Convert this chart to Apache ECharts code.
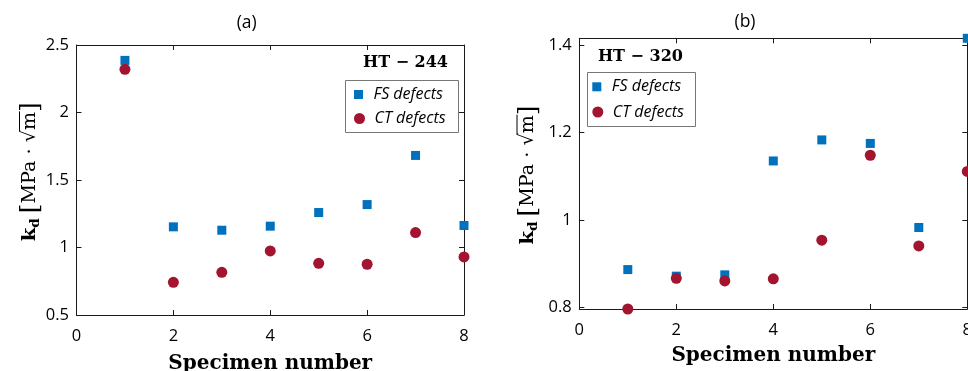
<!DOCTYPE html>
<html><head><meta charset="utf-8">
<script src="https://cdn.jsdelivr.net/npm/echarts@6/dist/echarts.min.js"></script>
<style>html,body{margin:0;padding:0;background:#fff}#c{width:968px;height:371px}</style>
</head><body><div id="c"></div>
<script>
// ---- data ----
const specimens = [1, 2, 3, 4, 5, 6, 7, 8];
const fsA = [2.386, 1.153, 1.128, 1.158, 1.259, 1.318, 1.682, 1.163];
const ctA = [2.320, 0.742, 0.816, 0.975, 0.883, 0.876, 1.111, 0.930];
const fsB = [0.887, 0.872, 0.875, 1.135, 1.183, 1.175, 0.983, 1.415];
const ctB = [0.797, 0.867, 0.861, 0.866, 0.954, 1.148, 0.941, 1.111];
const xTicks = [0, 2, 4, 6, 8];
const yTicksA = [0.5, 1, 1.5, 2, 2.5];
const yTicksB = [0.8, 1, 1.2, 1.4];
const panelTitles = ['(a)', '(b)'];
const materials = ['HT \u2212 244', 'HT \u2212 320'];
const seriesNames = ['FS defects', 'CT defects'];
const xLabel = 'Specimen number';

const BLUE = '#0072BD', RED = '#A2142F', AX = '#1a1a1a';
const TICKFONT = '"Open Sans", "Noto Sans", sans-serif';
const SERIF = '"DejaVu Serif", serif';

const chart = echarts.init(document.getElementById('c'), null, {renderer: 'canvas'});

const cvs = document.createElement('canvas');
const ctx = cvs.getContext('2d');
function midOff(font) { ctx.font = font; ctx.textBaseline = 'middle'; return ctx.measureText('H').actualBoundingBoxDescent; }
function width(font, t) { ctx.font = font; return ctx.measureText(t).width; }
function ascent(font, t) { ctx.font = font; ctx.textBaseline = 'alphabetic'; return ctx.measureText(t).actualBoundingBoxAscent; }

function yLabel(cx, cy) {
  const base = 17;
  const unitW = width('22px ' + SERIF, '[') * 2 + width(base + 'px ' + SERIF, 'MPa \u00b7 \u221am');
  const s = 111 / unitW;
  const kW = width('bold 17px ' + SERIF, 'k') + width('bold 12px ' + SERIF, 'd');
  const sk = 23 / kW;
  const F = {
    k: 'bold ' + (17 * sk).toFixed(2) + 'px ' + SERIF,
    d: 'bold ' + (12 * sk).toFixed(2) + 'px ' + SERIF,
    br: (22 * s).toFixed(2) + 'px ' + SERIF,
    r: (base * s).toFixed(2) + 'px ' + SERIF
  };
  const parts = [
    {t: 'k', f: F.k, dy: 0},
    {t: 'd', f: F.d, dy: 4},
    {gap: 5},
    {t: '[', f: F.br, dy: 2},
    {t: 'MPa', f: F.r, dy: 0},
    {t: ' \u00b7 ', f: F.r, dy: 0},
    {t: '\u221a', f: F.r, dy: 0, id: 's'},
    {t: 'm', f: F.r, dy: 0, id: 'm'},
    {t: ']', f: F.br, dy: 2}
  ];
  let total = 0;
  parts.forEach(p => { p.w = p.gap ? p.gap : width(p.f, p.t); total += p.w; });
  let x = -total / 2;
  const children = [];
  let sEnd = 0, mEnd = 0, sTop = 0;
  parts.forEach(p => {
    if (!p.gap) {
      children.push({type: 'text', x: x, y: p.dy - midOff(p.f),
        style: {text: p.t, font: p.f, fill: '#000', align: 'left', verticalAlign: 'middle'}});
      if (p.id === 's') { sEnd = x + p.w; sTop = ascent(p.f, p.t); }
      if (p.id === 'm') { mEnd = x + p.w; }
    }
    x += p.w;
  });
  children.push({type: 'line', shape: {x1: sEnd - 1.5, y1: -sTop + 0.5, x2: mEnd + 0.5, y2: -sTop + 0.5},
    style: {stroke: '#000', lineWidth: 1}});
  return {type: 'group', x: cx, y: cy, rotation: Math.PI / 2, children: children};
}

const grids = [
  {left: 76.5, top: 45, width: 387.5, height: 270, outerBoundsMode: 'none', containLabel: false},
  {left: 579.3, top: 38.3, width: 388, height: 270.7, outerBoundsMode: 'none', containLabel: false}
];

function xAx(gi, pos, gap) {
  return {
    type: 'value', gridIndex: gi, position: pos, min: 0, max: 8, interval: 2,
    axisLine: {show: true, onZero: false, lineStyle: {color: AX, width: 1}},
    axisTick: {show: true, inside: true, length: 5, lineStyle: {color: AX}},
    axisLabel: {show: pos === 'bottom', margin: 12.5, color: '#000', fontSize: 16.5, fontFamily: TICKFONT,
      customValues: xTicks},
    splitLine: {show: false},
    name: pos === 'bottom' ? xLabel : '', nameLocation: 'middle', nameGap: gap || 36,
    nameTextStyle: {fontFamily: SERIF, fontWeight: 'bold', fontSize: 20, color: '#000'}
  };
}
function yAx(gi, pos, mn, mx, ticks) {
  return {
    type: 'value', gridIndex: gi, position: pos, min: mn, max: mx,
    axisLine: {show: true, onZero: false, lineStyle: {color: AX, width: 1}},
    axisTick: {show: true, inside: true, length: 5, lineStyle: {color: AX}, customValues: ticks},
    axisLabel: {show: pos === 'left', margin: 7.5, color: '#000', fontSize: 16.5, fontFamily: TICKFONT,
      customValues: ticks},
    splitLine: {show: false}
  };
}

const yMinB = Math.min(...ctB, ...fsB), yMaxB = Math.max(...ctB, ...fsB);

function pairs(vals) { return specimens.map((s, i) => [s, vals[i]]); }

function legendItem(name, icon, w, h, left, top) {
  return {
    data: [name], orient: 'vertical', left: left, top: top, padding: 0,
    icon: icon, itemWidth: w, itemHeight: h, symbolKeepAspect: true,
    itemStyle: {opacity: 1},
    textStyle: {fontFamily: TICKFONT, fontStyle: 'italic', fontSize: 16, color: '#000'},
    selectedMode: false
  };
}
const SQ = 'path://M0,0h10v10h-10z';

const option = {
  animation: false,
  backgroundColor: '#fff',
  grid: grids,
  xAxis: [xAx(0, 'bottom', 38.5), xAx(0, 'top'), xAx(1, 'bottom', 36.5), xAx(1, 'top')],
  yAxis: [yAx(0, 'left', 0.5, 2.5, yTicksA), yAx(0, 'right', 0.5, 2.5, yTicksA),
          yAx(1, 'left', yMinB, yMaxB, yTicksB), yAx(1, 'right', yMinB, yMaxB, yTicksB)],
  legend: [
    legendItem(seriesNames[0], SQ, 20, 9, 354, 86.5),
    legendItem(seriesNames[1], 'circle', 20, 11, 354, 110.5),
    legendItem(seriesNames[0], SQ, 20, 9, 592.3, 78.8),
    legendItem(seriesNames[1], 'circle', 20, 11, 592.3, 104)
  ],
  series: [
    {name: seriesNames[0], type: 'scatter', xAxisIndex: 0, yAxisIndex: 0, data: pairs(fsA),
      symbol: 'rect', symbolSize: 9, itemStyle: {color: BLUE, opacity: 1}, clip: false, z: 3},
    {name: seriesNames[1], type: 'scatter', xAxisIndex: 0, yAxisIndex: 0, data: pairs(ctA),
      symbol: 'circle', symbolSize: 11, itemStyle: {color: RED, opacity: 1}, clip: false, z: 4},
    {name: seriesNames[0], type: 'scatter', xAxisIndex: 2, yAxisIndex: 2, data: pairs(fsB),
      symbol: 'rect', symbolSize: 9, itemStyle: {color: BLUE, opacity: 1}, clip: false, z: 3},
    {name: seriesNames[1], type: 'scatter', xAxisIndex: 2, yAxisIndex: 2, data: pairs(ctB),
      symbol: 'circle', symbolSize: 11, itemStyle: {color: RED, opacity: 1}, clip: false, z: 4}
  ],
  graphic: [
    {type: 'text', x: 246.7, y: 22.7, style: {text: panelTitles[0], font: '17.5px ' + TICKFONT, fill: '#000', align: 'center', verticalAlign: 'middle'}},
    {type: 'text', x: 745, y: 21.7, style: {text: panelTitles[1], font: '17.5px ' + TICKFONT, fill: '#000', align: 'center', verticalAlign: 'middle'}},
    {type: 'text', x: 448, y: 63, style: {text: materials[0], font: 'bold 16px ' + SERIF, fill: '#000', align: 'right', verticalAlign: 'middle'}},
    {type: 'text', x: 598, y: 57, style: {text: materials[1], font: 'bold 16px ' + SERIF, fill: '#000', align: 'left', verticalAlign: 'middle'}},
    {type: 'rect', shape: {x: 345.5, y: 80.5, width: 113, height: 52}, style: {fill: '#fff', stroke: '#777', lineWidth: 1}, z: 1},
    {type: 'rect', shape: {x: 587.5, y: 72.5, width: 108, height: 54}, style: {fill: '#fff', stroke: '#777', lineWidth: 1}, z: 1},
    yLabel(35, 171.7),
    yLabel(532.5, 175)
  ]
};
chart.setOption(option);
</script>
</body></html>
